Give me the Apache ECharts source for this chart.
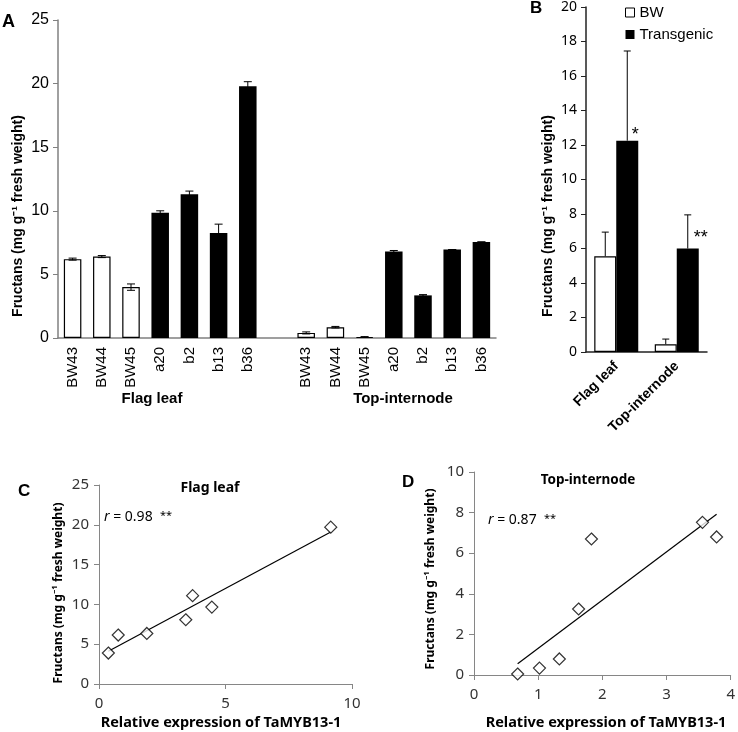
<!DOCTYPE html>
<html>
<head>
<meta charset="utf-8">
<script src="https://cdn.jsdelivr.net/npm/echarts@6/dist/echarts.min.js"></script>
<style>
  html, body { margin: 0; padding: 0; background: #fff; }
  #chart { width: 738px; height: 732px; }
</style>
</head>
<body>
<div id="chart"></div>
<script>
// panel A: fructans per line, flag leaf then top-internode (empty slot between)
const aCategories = ['BW43', 'BW44', 'BW45', 'a20', 'b2', 'b13', 'b36', '',
  'BW43', 'BW44', 'BW45', 'a20', 'b2', 'b13', 'b36'];
const aValues = [6.2, 6.4, 4.0, 9.85, 11.3, 8.25, 19.8, null,
  0.4, 0.85, 0.08, 6.8, 3.35, 6.95, 7.55];
const aErrors = [0.08, 0.08, 0.25, 0.15, 0.25, 0.7, 0.35, null,
  0.08, 0.06, 0.03, 0.08, 0.06, 0, 0];

// panel B: mean of BW vs transgenic
const bGroups = ['Flag leaf', 'Top-internode'];
const bBW = [5.55, 0.45];
const bBWErr = [1.4, 0.3];
const bTrans = [12.25, 6.0];
const bTransErr = [5.2, 1.95];
const bSig = ['*', '**'];

// panel C / D: expression vs fructans
const cX = [0.37, 0.76, 1.89, 3.43, 3.70, 4.46, 9.16];
const cY = [3.89, 6.15, 6.35, 8.07, 11.1, 9.66, 19.7];
const dX = [0.68, 1.02, 1.33, 1.63, 1.83, 3.56, 3.78];
const dY = [0.05, 0.34, 0.79, 3.25, 6.70, 7.52, 6.80];

const yName = 'Fructans (mg g\u207B\u00B9 fresh weight)';
const xName = 'Relative expression of TaMYB13-1';

function fit(xs, ys) {
  const n = xs.length;
  const mx = xs.reduce((a, b) => a + b, 0) / n;
  const my = ys.reduce((a, b) => a + b, 0) / n;
  let sxy = 0, sxx = 0;
  for (let i = 0; i < n; i++) {
    sxy += (xs[i] - mx) * (ys[i] - my);
    sxx += (xs[i] - mx) * (xs[i] - mx);
  }
  const k = sxy / sxx, b = my - k * mx;
  const x0 = Math.min(...xs), x1 = Math.max(...xs);
  return [[x0, k * x0 + b], [x1, k * x1 + b]];
}

// error bar drawer: value dims [cat, val, err, side]
function errBar(opts) {
  return function (params, api) {
    const val = api.value(1), err = api.value(2);
    if (val == null || isNaN(val)) return;
    const shift = opts.shift ? (api.value(3) ? 1 : -1) * opts.shift : 0;
    const top = api.coord([api.value(0), val + err]);
    const bot = api.coord([api.value(0), opts.plusOnly ? val : val - err]);
    const x = top[0] + shift;
    const w = opts.cap / 2;
    const st = { stroke: '#000', lineWidth: 1 };
    const kids = [
      { type: 'line', shape: { x1: x, y1: top[1], x2: x, y2: bot[1] }, style: st },
      { type: 'line', shape: { x1: x - w, y1: top[1], x2: x + w, y2: top[1] }, style: st }
    ];
    if (!opts.plusOnly) {
      kids.push({ type: 'line', shape: { x1: x - w, y1: bot[1], x2: x + w, y2: bot[1] }, style: st });
    }
    return { type: 'group', children: kids };
  };
}

const arial = 'Liberation Sans, Arial, sans-serif';
const calibri = 'Noto Sans, sans-serif';

const chart = echarts.init(document.getElementById('chart'));

const option = {
  animation: false,
  backgroundColor: '#fff',
  legend: {
    data: [
      { name: 'BW', itemStyle: { color: '#fff', borderColor: '#000', borderWidth: 1 } },
      { name: 'Transgenic', itemStyle: { color: '#000' } }
    ],
    orient: 'vertical',
    left: 620,
    top: 0,
    icon: 'rect',
    itemWidth: 9,
    itemHeight: 9,
    itemGap: 7,
    textStyle: { fontFamily: arial, fontSize: 15, color: '#000' }
  },
  grid: [
    { left: 58, top: 20, width: 438, height: 318 },
    { left: 586, top: 5, width: 121, height: 347 },
    { left: 99, top: 485, width: 253, height: 199 },
    { left: 474, top: 472, width: 260, height: 203 }
  ],
  xAxis: [
    {
      gridIndex: 0, type: 'category', data: aCategories,
      axisLine: { lineStyle: { color: '#808080', width: 1.5 } },
      axisTick: { length: 5, lineStyle: { color: '#808080' } },
      axisLabel: { interval: 0, rotate: 90, margin: 9, fontFamily: arial, fontSize: 15, color: '#000' }
    },
    {
      gridIndex: 1, type: 'category', data: bGroups,
      axisLine: { lineStyle: { color: '#222', width: 1.5 } },
      axisTick: { length: 5, lineStyle: { color: '#222' } },
      axisLabel: { interval: 0, rotate: 45, margin: 12, fontFamily: arial, fontWeight: 'bold', fontSize: 14, color: '#000' }
    },
    {
      gridIndex: 2, type: 'value', min: 0, max: 10, interval: 5,
      axisLine: { lineStyle: { color: '#868686' } },
      axisTick: { length: 5, lineStyle: { color: '#868686' } },
      splitLine: { show: false },
      axisLabel: { margin: 12, fontFamily: calibri, fontSize: 15, color: '#333' }
    },
    {
      gridIndex: 3, type: 'value', min: 0, max: 4, interval: 1,
      axisLine: { lineStyle: { color: '#868686' } },
      axisTick: { length: 5, lineStyle: { color: '#868686' } },
      splitLine: { show: false },
      axisLabel: { margin: 12, fontFamily: calibri, fontSize: 15, color: '#333' }
    }
  ],
  yAxis: [
    {
      gridIndex: 0, type: 'value', min: 0, max: 25, interval: 5,
      axisLine: { show: true, lineStyle: { color: '#808080', width: 1.5 } },
      axisTick: { show: true, length: 5, lineStyle: { color: '#808080' } },
      splitLine: { show: false },
      axisLabel: { margin: 9, fontFamily: arial, fontSize: 16, color: '#000' }
    },
    {
      gridIndex: 1, type: 'value', min: 0, max: 20, interval: 2,
      axisLine: { show: true, lineStyle: { color: '#222', width: 1.5 } },
      axisTick: { show: true, length: 5, lineStyle: { color: '#222' } },
      splitLine: { show: false },
      axisLabel: { margin: 9, fontFamily: calibri, fontSize: 14, color: '#000' }
    },
    {
      gridIndex: 2, type: 'value', min: 0, max: 25, interval: 5,
      axisLine: { show: true, lineStyle: { color: '#868686' } },
      axisTick: { show: true, length: 5, lineStyle: { color: '#868686' } },
      splitLine: { show: false },
      axisLabel: { margin: 10, fontFamily: calibri, fontSize: 15, color: '#333' }
    },
    {
      gridIndex: 3, type: 'value', min: 0, max: 10, interval: 2,
      axisLine: { show: true, lineStyle: { color: '#868686' } },
      axisTick: { show: true, length: 5, lineStyle: { color: '#868686' } },
      splitLine: { show: false },
      axisLabel: { margin: 10, fontFamily: calibri, fontSize: 15, color: '#333' }
    }
  ],
  series: [
    {
      type: 'bar', xAxisIndex: 0, yAxisIndex: 0,
      barCategoryGap: '40%',
      data: aValues.map((v, i) => ({
        value: v == null ? '-' : v,
        itemStyle: aCategories[i].startsWith('BW')
          ? { color: '#fff', borderColor: '#000', borderWidth: 1.2 }
          : { color: '#000' }
      }))
    },
    {
      type: 'custom', xAxisIndex: 0, yAxisIndex: 0, z: 5,
      renderItem: errBar({ cap: 8 }),
      data: aValues.map((v, i) => [i, v == null ? NaN : v, aErrors[i] || 0])
    },
    {
      name: 'BW', type: 'bar', xAxisIndex: 1, yAxisIndex: 1,
      barWidth: 22, barGap: '0%',
      itemStyle: { color: '#fff', borderColor: '#000', borderWidth: 1.2 },
      data: bBW
    },
    {
      name: 'Transgenic', type: 'bar', xAxisIndex: 1, yAxisIndex: 1,
      barWidth: 22, barGap: '0%',
      itemStyle: { color: '#000' },
      data: bTrans.map((v, i) => ({
        value: v,
        label: {
          show: true, position: 'top', formatter: bSig[i],
          offset: i === 0 ? [8, 8] : [13, 4],
          fontFamily: arial, fontSize: 18, color: '#000'
        }
      }))
    },
    {
      type: 'custom', xAxisIndex: 1, yAxisIndex: 1, z: 5,
      renderItem: errBar({ cap: 7, plusOnly: true, shift: 11 }),
      data: bBW.map((v, i) => [i, v, bBWErr[i], 0])
        .concat(bTrans.map((v, i) => [i, v, bTransErr[i], 1]))
    },
    {
      type: 'scatter', xAxisIndex: 2, yAxisIndex: 2,
      symbol: 'diamond', symbolSize: 12,
      itemStyle: { color: '#fff', borderColor: '#000', borderWidth: 1.2 },
      data: cX.map((x, i) => [x, cY[i]]), z: 4
    },
    {
      type: 'line', xAxisIndex: 2, yAxisIndex: 2, symbol: 'none',
      lineStyle: { color: '#000', width: 1.2 },
      data: fit(cX, cY)
    },
    {
      type: 'scatter', xAxisIndex: 3, yAxisIndex: 3,
      symbol: 'diamond', symbolSize: 12,
      itemStyle: { color: '#fff', borderColor: '#000', borderWidth: 1.2 },
      data: dX.map((x, i) => [x, dY[i]]), z: 4
    },
    {
      type: 'line', xAxisIndex: 3, yAxisIndex: 3, symbol: 'none',
      lineStyle: { color: '#000', width: 1.2 },
      data: fit(dX, dY)
    }
  ],
  graphic: [
    // panel letters
    { type: 'text', left: 2, top: 13, style: { text: 'A', font: 'bold 18px ' + arial, fill: '#000' } },
    { type: 'text', left: 530, top: 0, style: { text: 'B', font: 'bold 17px ' + arial, fill: '#000' } },
    { type: 'text', left: 18, top: 483, style: { text: 'C', font: 'bold 17px ' + arial, fill: '#000' } },
    { type: 'text', left: 402, top: 474, style: { text: 'D', font: 'bold 17px ' + arial, fill: '#000' } },
    // y-axis names
    { type: 'text', x: 18, y: 216, rotation: Math.PI / 2,
      style: { text: yName, font: 'bold 14px ' + arial, fill: '#000', textAlign: 'center', textVerticalAlign: 'middle' } },
    { type: 'text', x: 548, y: 216, rotation: Math.PI / 2,
      style: { text: yName, font: 'bold 14px ' + arial, fill: '#000', textAlign: 'center', textVerticalAlign: 'middle' } },
    { type: 'text', x: 59, y: 593, rotation: Math.PI / 2,
      style: { text: yName, font: 'bold 12px ' + calibri, fill: '#000', textAlign: 'center', textVerticalAlign: 'middle' } },
    { type: 'text', x: 431, y: 579, rotation: Math.PI / 2,
      style: { text: yName, font: 'bold 12px ' + calibri, fill: '#000', textAlign: 'center', textVerticalAlign: 'middle' } },
    // x-axis names
    { type: 'text', x: 152, y: 399,
      style: { text: 'Flag leaf', font: 'bold 15px ' + arial, fill: '#000', textAlign: 'center', textVerticalAlign: 'middle' } },
    { type: 'text', x: 403, y: 399,
      style: { text: 'Top-internode', font: 'bold 15px ' + arial, fill: '#000', textAlign: 'center', textVerticalAlign: 'middle' } },
    { type: 'text', x: 221, y: 723,
      style: { text: xName, font: 'bold 14.5px ' + calibri, fill: '#000', textAlign: 'center', textVerticalAlign: 'middle' } },
    { type: 'text', x: 606, y: 723,
      style: { text: xName, font: 'bold 14.5px ' + calibri, fill: '#000', textAlign: 'center', textVerticalAlign: 'middle' } },
    // panel titles
    { type: 'text', x: 210, y: 488,
      style: { text: 'Flag leaf', font: 'bold 14px ' + calibri, fill: '#000', textAlign: 'center', textVerticalAlign: 'middle' } },
    { type: 'text', x: 588, y: 480,
      style: { text: 'Top-internode', font: 'bold 13.5px ' + calibri, fill: '#000', textAlign: 'center', textVerticalAlign: 'middle' } },
    // correlation notes
    { type: 'text', x: 104, y: 517,
      style: { text: '{i|r} = 0.98  {s|**}', textVerticalAlign: 'middle',
        font: '14px ' + calibri, fill: '#000',
        rich: { i: { fontStyle: 'italic', fontFamily: calibri, fontSize: 14 }, s: { fontSize: 11, fontFamily: calibri, verticalAlign: 'top' } } } },
    { type: 'text', x: 488, y: 520,
      style: { text: '{i|r} = 0.87  {s|**}', textVerticalAlign: 'middle',
        font: '14px ' + calibri, fill: '#000',
        rich: { i: { fontStyle: 'italic', fontFamily: calibri, fontSize: 14 }, s: { fontSize: 11, fontFamily: calibri, verticalAlign: 'top' } } } }
  ]
};

chart.setOption(option);
</script>
</body>
</html>
